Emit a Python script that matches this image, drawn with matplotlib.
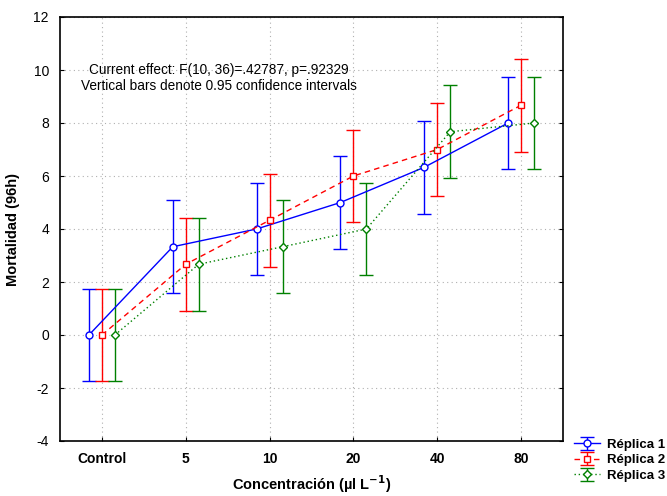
import numpy as np
import matplotlib.pyplot as plt

plt.rcParams['font.family'] = ['Liberation Sans', 'DejaVu Sans']

categories = ['Control', '5', '10', '20', '40', '80']
replica1 = [0.0, 3.33, 4.0, 5.0, 6.33, 8.0]
replica2 = [0.0, 2.67, 4.33, 6.0, 7.0, 8.67]
replica3 = [0.0, 2.67, 3.33, 4.0, 7.67, 8.0]
ci_half = [1.75, 1.75, 1.75, 1.75, 1.75, 1.75]

fig = plt.figure(figsize=(6.67, 4.96), dpi=100)
ax = fig.add_axes([60 / 667, 1 - 441 / 496, 503 / 667, 424 / 496])

x = np.arange(len(categories))
series = [
    ('Réplica 1', replica1, '#0000ff', '-', 'o', -0.155, 5),
    ('Réplica 2', replica2, '#ff0000', (0, (4, 3)), 's', 0.0, 5),
    ('Réplica 3', replica3, '#008000', (0, (1, 2)), 'D', 0.155, 4),
]
handles = []
for label, vals, col, ls, mk, off, ms in series:
    h = ax.errorbar(x + off, vals, yerr=ci_half, color=col, ecolor=col,
                    elinewidth=1.0, capsize=5, capthick=1.0,
                    marker=mk, markersize=ms, markerfacecolor='white',
                    markeredgecolor=col, markeredgewidth=1.0,
                    linestyle=ls, linewidth=1.0, label=label)
    handles.append(h)

ax.set_xlim(-0.5, 5.5)
ax.set_ylim(-4, 12)
ax.set_xticks(x)
ax.set_xticklabels(categories, fontweight='bold', fontsize=10)
ax.set_yticks(np.arange(-4, 13, 2))
ax.set_yticklabels([str(v) for v in range(-4, 13, 2)], fontsize=10)
ax.tick_params(direction='in', length=3, top=False, right=True, pad=8)
ax.grid(True, linestyle=(0, (1, 3)), color='#b0b0b0', linewidth=0.8)
for s in ax.spines.values():
    s.set_linewidth(1.2)

ax.set_ylabel('Mortalidad (96h)', fontweight='bold', fontsize=10.5, labelpad=10)
ax.set_xlabel('Concentración (µl L$^{\\mathbf{-1}}$)', fontweight='bold',
              fontsize=10.5, labelpad=5)

ax.text(0.315, 0.856, 'Current effect: F(10, 36)=.42787, p=.92329\n'
        'Vertical bars denote 0.95 confidence intervals',
        transform=ax.transAxes, ha='center', va='center', fontsize=9.8,
        linespacing=1.2)

fig.legend(handles=handles, loc='lower right',
           bbox_to_anchor=(665 / 667, 1 - 482 / 496), frameon=False,
           prop={'weight': 'bold', 'size': 9.5},
           handlelength=2.0, handletextpad=0.5, labelspacing=0.25,
           borderpad=0.0, borderaxespad=0.0)

fig.savefig('out.png', dpi=100)
